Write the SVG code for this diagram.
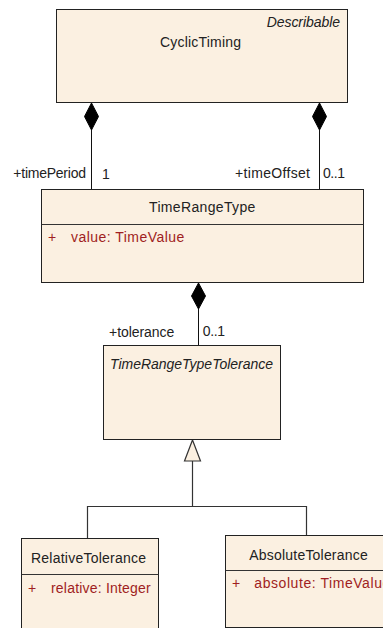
<svg xmlns="http://www.w3.org/2000/svg" width="383" height="628" viewBox="0 0 383 628">
<style>
.box{fill:#FBF0E1;stroke:#222;stroke-width:1}
.div{stroke:#333;stroke-width:1}
text{font-family:"Liberation Sans",Arial,sans-serif;font-size:14px;fill:#222}
.it{font-style:italic}
.attr{fill:#A01E22}
.ln{fill:none;stroke:#111;stroke-width:1}
.gl{fill:none;stroke:#333;stroke-width:1.2}
.dia{fill:#000;stroke:#000;stroke-width:1}
.tri{fill:#FBF0E1;stroke:#333;stroke-width:1.2}
</style>
<rect width="383" height="628" fill="#fff"/>
<g id="connectors">
<line class="ln" x1="91.5" y1="130" x2="91.5" y2="189.5"/>
<polygon class="dia" points="91.5,103 98.5,116.5 91.5,130 84.5,116.5"/>
<line class="ln" x1="319.5" y1="130" x2="319.5" y2="189.5"/>
<polygon class="dia" points="319.5,103 326.5,116.5 319.5,130 312.5,116.5"/>
<line class="ln" x1="198.5" y1="309" x2="198.5" y2="345.5"/>
<polygon class="dia" points="198.5,283 205.5,296 198.5,309 191.5,296"/>
<polyline class="gl" points="87.5,538.5 87.5,506.5 306.5,506.5 306.5,535.5"/>
<line class="gl" x1="192.5" y1="461" x2="192.5" y2="506.5"/>
<polygon class="tri" points="192.5,440 200.5,461 184.5,461"/>
<text x="13.3" y="177.5" textLength="72.7" lengthAdjust="spacing">+timePeriod</text>
<text x="102" y="179">1</text>
<text x="235" y="177.5" textLength="75" lengthAdjust="spacing">+timeOffset</text>
<text x="323" y="177.5" textLength="22" lengthAdjust="spacing">0..1</text>
<text x="109" y="336.7" textLength="65.3" lengthAdjust="spacing">+tolerance</text>
<text x="202.7" y="336" textLength="22.3" lengthAdjust="spacing">0..1</text>
</g>
<g id="CyclicTiming">
<rect class="box" x="56.5" y="9.5" width="291" height="93"/>
<text class="it" x="266.7" y="26.7" textLength="73.3" lengthAdjust="spacing">Describable</text>
<text x="160" y="47.3" textLength="81" lengthAdjust="spacing">CyclicTiming</text>
</g>
<g id="TimeRangeType">
<rect class="box" x="41.5" y="189.5" width="322" height="93"/>
<line class="div" x1="41.5" y1="224.5" x2="363.5" y2="224.5"/>
<text x="149" y="211.7" textLength="106.3" lengthAdjust="spacing">TimeRangeType</text>
<text class="attr" x="48" y="241.7">+</text>
<text class="attr" x="71" y="241.7" textLength="113.3" lengthAdjust="spacing">value: TimeValue</text>
</g>
<g id="TimeRangeTypeTolerance">
<rect class="box" x="103.5" y="345.5" width="177" height="94"/>
<text class="it" x="110" y="369.3" textLength="163" lengthAdjust="spacing">TimeRangeTypeTolerance</text>
</g>
<g id="RelativeTolerance">
<rect class="box" x="21.5" y="538.5" width="137" height="100"/>
<line class="div" x1="21.5" y1="574.5" x2="158.5" y2="574.5"/>
<text x="31" y="562.7" textLength="115" lengthAdjust="spacing">RelativeTolerance</text>
<text class="attr" x="28" y="593.3">+</text>
<text class="attr" x="51" y="593.3" textLength="99.7" lengthAdjust="spacing">relative: Integer</text>
</g>
<g id="AbsoluteTolerance">
<rect class="box" x="225.5" y="535.5" width="170" height="92"/>
<line class="div" x1="225.5" y1="570.5" x2="395.5" y2="570.5"/>
<text x="249.3" y="560" textLength="118.4" lengthAdjust="spacing">AbsoluteTolerance</text>
<text class="attr" x="232" y="588.3">+</text>
<text class="attr" x="254.3" y="588.3" textLength="136" lengthAdjust="spacing">absolute: TimeValue</text>
</g>
</svg>
